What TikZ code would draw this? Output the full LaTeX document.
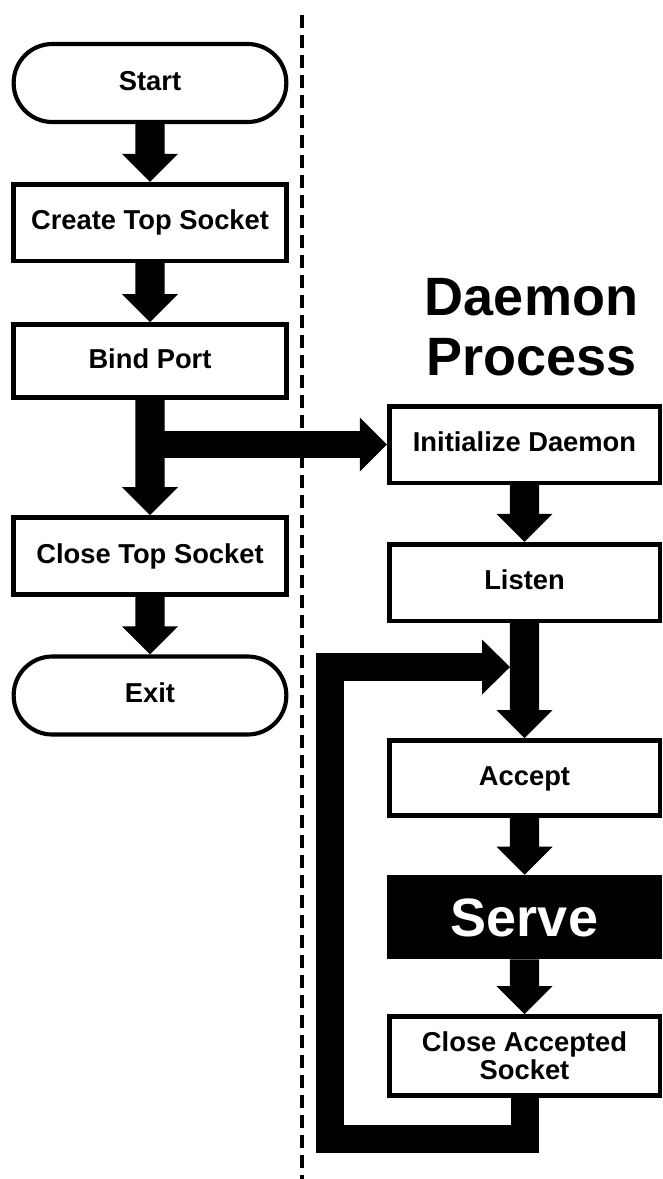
\documentclass[tikz,border=0pt]{standalone}
\usepackage{fontspec}
\setmainfont{Liberation Sans}
\usetikzlibrary{calc}
\newcommand\varrow[2]{\fill let \p1=(#1), \p2=(#2) in
  (\x1-10.9pt,\y1) -- (\x1-10.9pt,\y2+21pt) -- (\x1-21pt,\y2+21pt) -- (\x1,\y2)
  -- (\x1+21pt,\y2+21pt) -- (\x1+10.9pt,\y2+21pt) -- (\x1+10.9pt,\y1) -- cycle;}
\newcommand\harrow[2]{\fill let \p1=(#1), \p2=(#2) in
  (\x1,\y1+10.1pt) -- (\x2-20.25pt,\y1+10.1pt) -- (\x2-20.25pt,\y1+20.25pt) -- (\x2,\y1)
  -- (\x2-20.25pt,\y1-20.25pt) -- (\x2-20.25pt,\y1-10.1pt) -- (\x1,\y1-10.1pt) -- cycle;}
\begin{document}
\begin{tikzpicture}[x=0.75pt,y=-0.75pt,
  lbl/.style={font=\fontsize{20.5}{21}\selectfont\bfseries, text height=14.9pt, text depth=4.3pt, inner sep=0pt},
  stepbox/.style={lbl, draw, line width=3.4pt, fill=white, rectangle},
  leftbox/.style={stepbox, minimum width=204.4pt},
  rightbox/.style={stepbox, minimum width=202.9pt},
  term/.style={lbl, draw, line width=3.1pt, fill=white, rounded corners=29pt, minimum width=204.5pt, minimum height=58.5pt},
  bigtxt/.style={font=\fontsize{40.5}{45}\selectfont\bfseries, inner sep=0pt},
  dashline/.style={line width=2.6pt, dash pattern=on 10pt off 5pt},
  loopline/.style={line width=21pt, line join=miter, line cap=butt}]
\useasboundingbox (0,0) rectangle (663,1179);
\fill[white] (0,0) rectangle (663,1179);

% separator
\coordinate (dtop) at (302,15);
\coordinate (dbot) at (302,1179);
\draw[dashline] (dtop) -- (dbot);

% left column
\node[term] (start) at (150,83) {Start};
\node[leftbox, minimum height=57.4pt] (create) at (150,222.5) {Create Top Socket};
\node[leftbox, minimum height=55pt] (bind) at (150,361) {Bind Port};
\node[leftbox, minimum height=58pt] (closetop) at (150,556) {Close Top Socket};
\node[term] (exit) at (150,695.5) {Exit};

% right column
\node[bigtxt, anchor=base] (daemon) at (531.5,315) {Daemon};
\node[bigtxt, anchor=base] (process) at (531.5,375) {Process};
\node[rightbox, minimum height=57.4pt] (init) at (524.5,444.5) {Initialize Daemon};
\node[rightbox, minimum height=57.4pt] (listen) at (524.5,582.5) {Listen};
\node[rightbox, minimum height=56.6pt] (accept) at (524.5,778) {Accept};
\node[fill=black, text=white, bigtxt, minimum width=206.25pt, minimum height=63pt, text height=29pt, text depth=-2pt] (serve) at (524.5,917) {Serve};
\node[stepbox, minimum width=202.9pt, minimum height=59.6pt, text height=, text depth=, align=center, font=\fontsize{20.5}{21}\selectfont\bfseries] (closeacc) at (524.5,1056) {Close Accepted\\Socket};

% connectors left
\varrow{start.south}{create.north}
\varrow{create.south}{bind.north}
\varrow{bind.south}{closetop.north}
\varrow{closetop.south}{exit.north}
\coordinate (branch) at (bind.south |- init.west);
\harrow{branch}{init.west}

% connectors right
\varrow{init.south}{listen.north}
\varrow{listen.south}{accept.north}
\varrow{accept.south}{serve.north}
\varrow{serve.south}{closeacc.north}

% loop back
\path (listen.south) ++(-14.5,44) coordinate (loopin);
\draw[loopline] (closeacc.south) -- ++(0,41) -| ($(loopin)+(-180,0)$) -- ($(loopin)+(-26,0)$);
\fill (loopin) -- ++(-28,-27.5) -- ++(0,55) -- cycle;
\end{tikzpicture}
\end{document}
